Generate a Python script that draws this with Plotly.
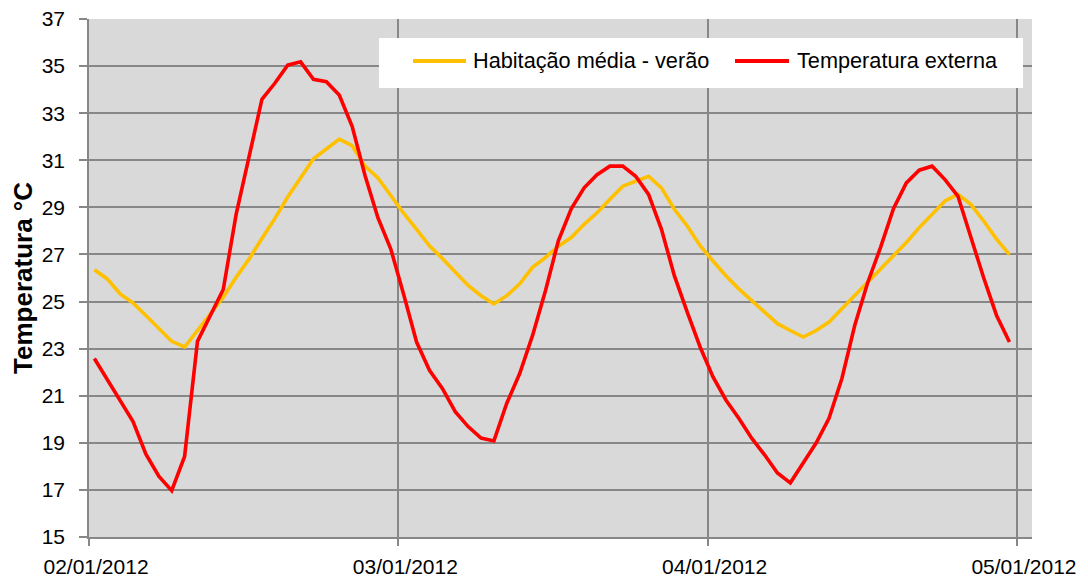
import pandas as pd
import plotly.graph_objects as go

# Hourly readings, 02/01/2012 to 04/01/2012 (°C)
inicio = "2012-01-02 00:25"

habitacao_media_verao = [
    26.35, 25.96, 25.32, 24.94, 24.41, 23.85, 23.31, 23.07, 23.77, 24.48, 25.18, 26.03,
    26.80, 27.68, 28.52, 29.44, 30.25, 31.06, 31.48, 31.90, 31.62, 30.75, 30.25, 29.48,
    28.75, 28.07, 27.37, 26.83, 26.27, 25.68, 25.25, 24.90, 25.25, 25.75, 26.45, 26.87,
    27.35, 27.72, 28.28, 28.77, 29.34, 29.90, 30.11, 30.32, 29.83, 28.92, 28.21, 27.37,
    26.72, 26.10, 25.54, 25.04, 24.59, 24.06, 23.77, 23.49, 23.77, 24.13, 24.69, 25.25,
    25.82, 26.35, 26.94, 27.51, 28.14, 28.70, 29.27, 29.55, 29.13, 28.42, 27.65, 26.99,
]

temperatura_externa = [
    22.58, 21.69, 20.78, 19.90, 18.52, 17.58, 16.97, 18.42, 23.31, 24.38, 25.51, 28.70,
    31.20, 33.59, 34.27, 35.04, 35.18, 34.44, 34.34, 33.77, 32.44, 30.35, 28.56, 27.23,
    25.30, 23.28, 22.08, 21.31, 20.32, 19.69, 19.20, 19.08, 20.68, 21.94, 23.56, 25.46,
    27.58, 28.94, 29.83, 30.39, 30.75, 30.75, 30.32, 29.55, 28.07, 26.10, 24.55, 23.07,
    21.80, 20.82, 20.04, 19.20, 18.49, 17.72, 17.30, 18.14, 18.99, 20.04, 21.73, 23.99,
    25.80, 27.30, 28.94, 30.04, 30.58, 30.75, 30.18, 29.48, 27.72, 26.01, 24.41, 23.28,
]

nomes = ["Habitação média - verão", "Temperatura externa"]
cores = ["#FFC000", "#FF0000"]

datas_x = ["2012-01-02", "2012-01-03", "2012-01-04", "2012-01-05"]
rotulos_x = ["02/01/2012", "03/01/2012", "04/01/2012", "05/01/2012"]
ticks_y = list(range(15, 38, 2))
titulo_y = "Temperatura °C"

horas = pd.date_range(inicio, periods=len(temperatura_externa), freq="h")

# Page geometry
W, H = 1088, 579
ML, MR, MT, MB = 89, 56, 19, 42
PW, PH = W - ML - MR, H - MT - MB


def fx(p):
    return (p - ML) / PW


def fy(p):
    return (H - MB - p) / PH


FONTE = "Liberation Sans, Arial, sans-serif"
CINZA = "#878787"

fig = go.Figure()
for nome, cor, valores in zip(nomes, cores, [habitacao_media_verao, temperatura_externa]):
    fig.add_trace(go.Scatter(
        x=horas, y=valores, name=nome, mode="lines",
        line=dict(color=cor, width=3.6), showlegend=False,
    ))

# Legend box drawn as a white panel with line swatches
shapes = [dict(type="rect", xref="paper", yref="paper",
               x0=fx(379), x1=fx(1023), y0=fy(88), y1=fy(38),
               fillcolor="white", line=dict(width=0), layer="above")]
annotations = []
swatches = [(413, 466, 471), (735, 789, 795)]
for (sx0, sx1, tx), nome, cor in zip(swatches, nomes, cores):
    shapes.append(dict(type="line", xref="paper", yref="paper",
                       x0=fx(sx0), x1=fx(sx1), y0=fy(61), y1=fy(61),
                       line=dict(color=cor, width=4), layer="above"))
    annotations.append(dict(xref="paper", yref="paper", x=fx(tx), y=fy(61),
                            xanchor="left", yanchor="middle", showarrow=False,
                            text=nome, font=dict(family=FONTE, size=21.7, color="black")))

fig.update_layout(
    width=W, height=H,
    margin=dict(l=ML, r=MR, t=MT, b=MB, pad=0),
    paper_bgcolor="white", plot_bgcolor="#D9D9D9",
    font=dict(family=FONTE, size=21, color="black"),
    shapes=shapes, annotations=annotations,
    xaxis=dict(
        type="date", range=["2012-01-02 00:00", "2012-01-05 01:10"],
        automargin=False,
        tickmode="array", tickvals=datas_x, ticktext=rotulos_x,
        showgrid=True, gridcolor=CINZA, gridwidth=1.6,
        showline=True, linecolor=CINZA, linewidth=1.6,
        ticks="outside", ticklen=7, tickwidth=1.6, tickcolor=CINZA,
        tickfont=dict(family=FONTE, size=21, color="black"),
        ticklabelshift=7, ticklabelstandoff=3, zeroline=False,
    ),
    yaxis=dict(
        range=[15, 37], automargin=False,
        tickmode="array", tickvals=ticks_y,
        showgrid=True, gridcolor=CINZA, gridwidth=1.6,
        showline=True, linecolor=CINZA, linewidth=1.6,
        ticks="outside", ticklen=8, tickwidth=1.6, tickcolor=CINZA,
        tickfont=dict(family=FONTE, size=21, color="black"),
        ticklabelstandoff=10, zeroline=False,
        title=dict(text=titulo_y, standoff=2,
                   font=dict(family=FONTE, size=26, color="black", weight="bold")),
    ),
)

fig.write_html("out.html")
